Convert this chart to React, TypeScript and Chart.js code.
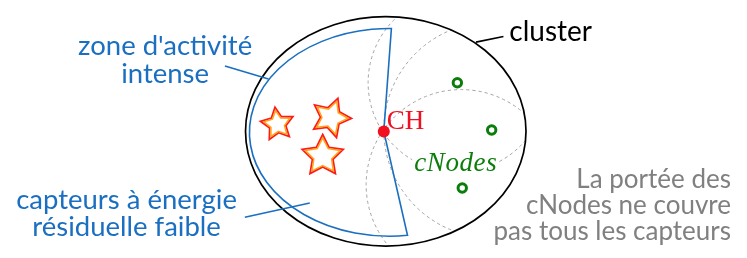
import React, { useEffect, useRef } from "react";
import { Chart, registerables } from "chart.js";

Chart.register(...registerables);

const W = 747;
const H = 258;

// cluster outline (ellipse): centre and radii, in picture units
const clusterCenter = [386, 131.5];
const clusterRadii = [143, 121.5];

// "zone d'activité intense": elliptic arc closed through CH
const zoneCenter = [390, 132.5];
const zoneRadii = [143, 110];
const zoneArcDeg = [82.7, 270.7];

// cluster head
const chPoint = [384, 131.7];

// cNodes
const cNodeX = [459, 494, 464];
const cNodeY = [80, 130, 191.5];

// cNode ranges (dashed circles)
const rangeX = [459, 494, 463];
const rangeY = [80, 130, 188];
const rangeR = [91, 110, 97];

// low-energy sensors (stars)
const starX = [275.5, 330, 321.7];
const starY = [124, 117, 157.7];
const starR = [17.5, 21, 22];
const starRot = [-8, 20, 0];

// leader lines
const clusterLeader = [[478, 37], [506, 31]];
const zoneLeader = [[222, 62.3], [266.5, 76]];
const energyLeader = [[242.3, 222.5], [308.5, 207.3]];

// texts
const zoneLines = ["zone d'activité", "intense"];
const energyLines = ["capteurs à énergie", "résiduelle faible"];
const noteLines = ["La portée des", "cNodes ne couvre", "pas tous les capteurs"];
const clusterLabel = "cluster";
const chLabel = "CH";
const cNodesLabel = "cNodes";

const BLUE = "#1a6fc0";
const GREEN = "#0a7d0a";
const RED = "#f01020";
const SANS = "Lato, 'Open Sans', sans-serif";
const SERIF = "'Liberation Serif', 'DejaVu Serif', serif";

const toPts = (arr: number[][]) => arr.map(([x, y]) => ({ x, y }));

const diagramPlugin = {
  id: "diagram",
  beforeDatasetsDraw(chart: any) {
    const ctx: CanvasRenderingContext2D = chart.ctx;
    const xs = chart.scales.x;
    const ys = chart.scales.y;
    const px = (v: number) => xs.getPixelForValue(v);
    const py = (v: number) => ys.getPixelForValue(v);
    const sx = (d: number) => px(d) - px(0);
    const sy = (d: number) => py(d) - py(0);

    const ccx = px(clusterCenter[0]);
    const ccy = py(clusterCenter[1]);
    const crx = Math.abs(sx(clusterRadii[0]));
    const cry = Math.abs(sy(clusterRadii[1]));

    ctx.save();
    // dashed ranges, clipped to the cluster
    ctx.beginPath();
    ctx.ellipse(ccx, ccy, crx, cry, 0, 0, Math.PI * 2);
    ctx.clip();
    ctx.strokeStyle = "#a3a3a3";
    ctx.lineWidth = 1;
    ctx.setLineDash([3.2, 3]);
    for (let i = 0; i < rangeX.length; i++) {
      ctx.beginPath();
      ctx.arc(px(rangeX[i]), py(rangeY[i]), Math.abs(sx(rangeR[i])), 0, Math.PI * 2);
      ctx.stroke();
    }
    ctx.restore();

    // cluster outline
    ctx.save();
    ctx.strokeStyle = "#000";
    ctx.lineWidth = 1.7;
    ctx.beginPath();
    ctx.ellipse(ccx, ccy, crx, cry, 0, 0, Math.PI * 2);
    ctx.stroke();
    ctx.restore();

    // zone d'activité intense
    const zcx = px(zoneCenter[0]);
    const zcy = py(zoneCenter[1]);
    const zrx = Math.abs(sx(zoneRadii[0]));
    const zry = Math.abs(sy(zoneRadii[1]));
    const a0 = (zoneArcDeg[0] * Math.PI) / 180;
    const a1 = (zoneArcDeg[1] * Math.PI) / 180;
    const topX = zcx + zrx * Math.cos(a1);
    const topY = zcy + zry * Math.sin(a1);
    ctx.save();
    ctx.strokeStyle = BLUE;
    ctx.lineWidth = 1.6;
    ctx.lineJoin = "miter";
    ctx.beginPath();
    ctx.moveTo(topX, topY);
    ctx.lineTo(px(chPoint[0]), py(chPoint[1]));
    ctx.lineTo(zcx + zrx * Math.cos(a0), zcy + zry * Math.sin(a0));
    ctx.ellipse(zcx, zcy, zrx, zry, 0, a0, a1, false);
    ctx.closePath();
    ctx.stroke();
    ctx.restore();

    // stars
    const starPath = (cx: number, cy: number, ro: number, ri: number, rot: number) => {
      ctx.beginPath();
      for (let k = 0; k < 10; k++) {
        const ang = ((-90 + rot + k * 36) * Math.PI) / 180;
        const r = k % 2 === 0 ? ro : ri;
        const x = cx + r * Math.cos(ang);
        const y = cy + r * Math.sin(ang);
        if (k === 0) ctx.moveTo(x, y);
        else ctx.lineTo(x, y);
      }
      ctx.closePath();
    };
    for (let i = 0; i < starX.length; i++) {
      const cx = px(starX[i]);
      const cy = py(starY[i]);
      const r = Math.abs(sx(starR[i]));
      ctx.save();
      ctx.lineJoin = "miter";
      starPath(cx, cy, r, r * 0.5, starRot[i]);
      ctx.fillStyle = "#fff";
      ctx.fill();
      ctx.strokeStyle = "#ff1a1a";
      ctx.lineWidth = 1.8;
      ctx.stroke();
      starPath(cx, cy, r - 3.4, r * 0.5 - 1.4, starRot[i]);
      ctx.strokeStyle = "#ffa31a";
      ctx.lineWidth = 1.5;
      ctx.stroke();
      ctx.restore();
    }
  },
  afterDatasetsDraw(chart: any) {
    const ctx: any = chart.ctx;
    const xs = chart.scales.x;
    const ys = chart.scales.y;
    const px = (v: number) => xs.getPixelForValue(v);
    const py = (v: number) => ys.getPixelForValue(v);
    ctx.save();
    ctx.textBaseline = "alphabetic";

    // blue labels
    ctx.fillStyle = BLUE;
    ctx.font = `27.5px ${SANS}`;
    ctx.textAlign = "center";
    zoneLines.forEach((t, i) => ctx.fillText(t, px(161), py(51 + i * 29.5)));
    energyLines.forEach((t, i) => ctx.fillText(t, px(121.7), py(213.3 + i * 29.5)));

    // cluster
    ctx.fillStyle = "#000";
    ctx.font = `28px ${SANS}`;
    ctx.textAlign = "left";
    ctx.fillText(clusterLabel, px(512), py(36));

    // note
    ctx.fillStyle = "#808080";
    ctx.font = `26px ${SANS}`;
    ctx.textAlign = "right";
    noteLines.forEach((t, i) => ctx.fillText(t, px(738), py(191.7 + i * 27.2)));

    // CH
    ctx.fillStyle = RED;
    ctx.font = `27px ${SERIF}`;
    ctx.textAlign = "left";
    ctx.fillText(chLabel, px(387), py(128.5));

    // cNodes (white box hides the dashed range lines)
    ctx.font = `italic 27px ${SERIF}`;
    ctx.letterSpacing = "0.6px";
    const w = ctx.measureText(cNodesLabel).width;
    ctx.fillStyle = "#fff";
    ctx.fillRect(px(415) - 2, py(173) - 18, w + 2, 22);
    ctx.fillStyle = GREEN;
    ctx.fillText(cNodesLabel, px(415), py(173));
    ctx.restore();
  },
};

export default function App() {
  const ref = useRef<HTMLCanvasElement | null>(null);

  useEffect(() => {
    document.body.style.margin = "0";
    const canvas = ref.current;
    if (!canvas) return;
    const lineDs = (pts: number[][], color: string) => ({
      type: "line" as const,
      data: toPts(pts),
      showLine: true,
      borderColor: color,
      borderWidth: 1.6,
      pointRadius: 0,
      fill: false,
    });
    const chart = new Chart(canvas, {
      type: "scatter",
      data: {
        datasets: [
          {
            label: "CH",
            data: [{ x: chPoint[0], y: chPoint[1] }],
            pointRadius: 6,
            pointBackgroundColor: RED,
            pointBorderWidth: 0,
            borderColor: RED,
          },
          {
            label: "cNodes",
            data: cNodeX.map((x, i) => ({ x, y: cNodeY[i] })),
            pointRadius: 4.2,
            pointBorderWidth: 3,
            pointBorderColor: GREEN,
            pointBackgroundColor: "#fff",
          },
          lineDs(clusterLeader, "#000") as any,
          lineDs(zoneLeader, BLUE) as any,
          lineDs(energyLeader, BLUE) as any,
        ],
      },
      options: {
        responsive: false,
        animation: false,
        devicePixelRatio: 1,
        layout: { padding: 0 },
        scales: {
          x: { type: "linear", min: 0, max: W, display: false },
          y: { type: "linear", min: 0, max: H, reverse: true, display: false },
        },
        plugins: { legend: { display: false }, tooltip: { enabled: false } },
        events: [],
      },
      plugins: [diagramPlugin],
    });
    return () => chart.destroy();
  }, []);

  return (
    <div style={{ width: W, height: H, background: "#fff" }}>
      <canvas ref={ref} width={W} height={H} style={{ display: "block" }} />
    </div>
  );
}
